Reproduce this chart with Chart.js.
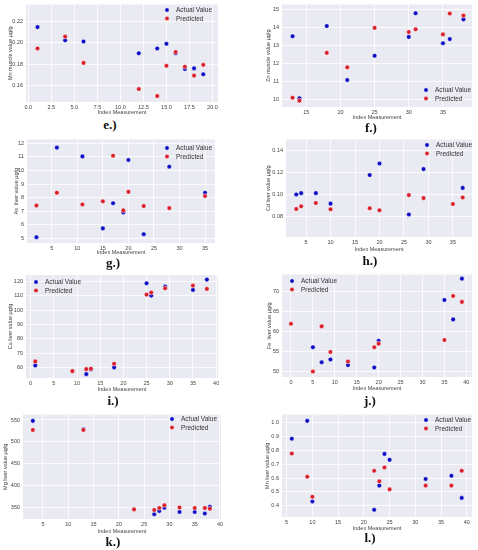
<!DOCTYPE html>
<html lang="en">
<head>
  <meta charset="UTF-8">
  <title>Actual vs Predicted</title>
  <script src="https://cdn.jsdelivr.net/npm/chart.js"></script>
  <style>
    body { margin: 0; background: #fff; }
    #wrap { position: relative; width: 478px; height: 550px; }
    canvas { position: absolute; }
    .cap { position: absolute; font: bold 13px "Liberation Serif", serif; color: #111; transform: translate(-50%, -50%); white-space: nowrap; }
  </style>
</head>
<body>
  <div id="wrap"></div>

  <script>
    // e.) Mn muscle
    const eIndex = [1, 4, 6, 12, 14, 15, 16, 17, 18, 19];
    const eActual = [0.2145, 0.2023, 0.2011, 0.1902, 0.1947, 0.1990, 0.1902, 0.1756, 0.1762, 0.1707];
    const ePredicted = [0.1947, 0.2057, 0.1813, 0.1570, 0.1506, 0.1786, 0.1914, 0.1777, 0.1695, 0.1795];
    const eXTicks = [0, 2.5, 5, 7.5, 10, 12.5, 15, 17.5, 20];
    const eYTicks = [0.16, 0.18, 0.20, 0.22];

    // f.) Zn muscle
    const fIndex = [13, 14, 18, 21, 25, 30, 31, 35, 36, 38];
    const fActual = [13.52, 10.09, 14.08, 11.10, 12.44, 13.48, 14.79, 13.13, 13.36, 14.45];
    const fPredicted = [10.12, 9.96, 12.60, 11.80, 13.98, 13.75, 13.90, 13.62, 14.77, 14.66];
    const fXTicks = [15, 20, 25, 30, 35];
    const fYTicks = [10, 11, 12, 13, 14, 15];

    // g.) As liver
    const gIndex = [2, 6, 11, 15, 17, 19, 20, 23, 28, 35];
    const gActual = [5.07, 11.69, 11.04, 5.72, 7.58, 6.89, 10.78, 5.29, 10.28, 8.35];
    const gPredicted = [7.41, 8.35, 7.49, 7.72, 11.09, 7.05, 8.42, 7.37, 7.22, 8.11];
    const gXTicks = [5, 10, 15, 20, 25, 30, 35];
    const gYTicks = [5, 6, 7, 8, 9, 10, 11, 12];

    // h.) Cd liver
    const hIndex = [3, 4, 7, 10, 18, 20, 26, 29, 35, 37];
    const hActual = [0.0999, 0.1011, 0.1011, 0.0916, 0.1174, 0.1278, 0.0818, 0.1228, null, 0.1058];
    const hPredicted = [0.0868, 0.0892, 0.0922, 0.0865, 0.0874, 0.0856, 0.0993, 0.0966, 0.0913, 0.0972];
    const hXTicks = [5, 10, 15, 20, 25, 30, 35];
    const hYTicks = [0.08, 0.10, 0.12, 0.14];

    // i.) Ca liver
    const iIndex = [1, 9, 12, 13, 18, 25, 26, 29, 35, 38];
    const iActual = [61.4, null, 55.3, 58.6, 60.0, 118.8, 110.2, 116.5, 114.2, 121.4];
    const iPredicted = [64.2, 57.4, 58.8, 59.1, 62.6, 110.9, 112.3, 115.3, 117.2, 114.9];
    const iXTicks = [0, 5, 10, 15, 20, 25, 30, 35, 40];
    const iYTicks = [60, 70, 80, 90, 100, 110, 120];

    // j.) Fe liver
    const jIndex = [0, 5, 7, 9, 13, 19, 20, 35, 37, 39];
    const jActual = [null, 56.0, 52.2, 52.9, 51.5, 50.9, 57.6, 67.9, 63.0, 73.25];
    const jPredicted = [61.9, 49.9, 61.25, 54.8, 52.4, 56.0, 56.9, 57.8, 68.9, 67.4];
    const jXTicks = [0, 5, 10, 15, 20, 25, 30, 35, 40];
    const jYTicks = [50, 55, 60, 65, 70];

    // k.) Mg liver
    const kIndex = [3, 13, 23, 27, 28, 29, 32, 35, 37, 38];
    const kActual = [548, 528.8, null, 335.3, 342.7, 350.0, 340.5, 340.5, 336.8, 352.2];
    const kPredicted = [527.3, 527.3, 346.3, 344.9, 349.3, 355.8, 350.7, 349.3, 349.3, 347.8];
    const kXTicks = [5, 10, 15, 20, 25, 30, 35, 40];
    const kYTicks = [350, 400, 450, 500, 550];

    // l.) Mn liver
    const lIndex = [6, 9, 10, 22, 23, 24, 25, 32, 37, 39];
    const lActual = [0.885, 1.014, 0.431, 0.371, 0.546, 0.775, 0.732, 0.594, 0.617, 0.457];
    const lPredicted = [0.778, 0.610, 0.465, 0.653, 0.577, 0.677, 0.519, 0.546, 0.546, 0.653];
    const lXTicks = [5, 10, 15, 20, 25, 30, 35, 40];
    const lYTicks = [0.4, 0.5, 0.6, 0.7, 0.8, 0.9, 1.0];

    const seriesNames = ['Actual Value', 'Predicted'];
    const BLUE = '#0a0ac4';
    const RED = '#d91e2c';
    const INK = '#444';

    // panel geometry: page offset, plot rect inside the canvas, axis ranges
    const panels = [
      { cap: 'e.)', left: 0, top: 0, plot: [26, 3, 218, 102], xOff: 10, yTitleX: 10,
        xr: [-0.25, 20.6], yr: [0.145, 0.2355], xt: eXTicks, yt: eYTicks, xd: 1, yd: 2,
        idx: eIndex, act: eActual, pred: ePredicted, ylab: 'Mn muscle value µg/g',
        leg: [167, 10], capAt: [110, 125] },
      { cap: 'f.)', left: 239, top: 0, plot: [43, 0, 233, 107], xOff: 10, yTitleX: 29,
        xr: [11.45, 39.25], yr: [9.61, 15.27], xt: fXTicks, yt: fYTicks, xd: 0, yd: 0,
        idx: fIndex, act: fActual, pred: fPredicted, ylab: 'Zn muscle value µg/g',
        leg: [187, 90], capAt: [371, 128] },
      { cap: 'g.)', left: 0, top: 135, plot: [27, 2, 215, 108], xOff: 9, yTitleX: 16,
        xr: [0.15, 36.95], yr: [4.64, 12.29], xt: gXTicks, yt: gYTicks, xd: 0, yd: 0,
        idx: gIndex, act: gActual, pred: gPredicted, ylab: 'As  liver value µg/g',
        leg: [167, 13], capAt: [113, 263] },
      { cap: 'h.)', left: 239, top: 135, plot: [47, 3, 233, 102], xOff: 12, yTitleX: 29,
        xr: [0.9, 38.9], yr: [0.0615, 0.1495], xt: hXTicks, yt: hYTicks, xd: 0, yd: 2,
        idx: hIndex, act: hActual, pred: hPredicted, ylab: 'Cd liver value µg/g',
        leg: [188, 10], capAt: [370, 261] },
      { cap: 'i.)', left: 0, top: 270, plot: [26, 5, 218, 108], xOff: 11, yTitleX: 10,
        xr: [-1.0, 40.4], yr: [52.6, 124.6], xt: iXTicks, yt: iYTicks, xd: 0, yd: 0,
        idx: iIndex, act: iActual, pred: iPredicted, ylab: 'Ca liver value µg/g',
        leg: [36, 12], capAt: [113, 401] },
      { cap: 'j.)', left: 239, top: 270, plot: [43, 3, 233, 107], xOff: 11, yTitleX: 30,
        xr: [-2.05, 41.3], yr: [48.5, 74.3], xt: jXTicks, yt: jYTicks, xd: 0, yd: 0,
        idx: jIndex, act: jActual, pred: jPredicted, ylab: 'Fe  liver value µg/g',
        leg: [53, 11], capAt: [370, 401] },
      { cap: 'k.)', left: 0, top: 410, plot: [23, 1, 221, 109], xOff: 12, yTitleX: 5,
        xr: [1.05, 40.2], yr: [324.4, 562.5], xt: kXTicks, yt: kYTicks, xd: 0, yd: 0,
        idx: kIndex, act: kActual, pred: kPredicted, ylab: 'Mg liver value µg/g',
        leg: [172, 9], capAt: [113, 542] },
      { cap: 'l.)', left: 239, top: 410, plot: [43, 3, 233, 107], xOff: 11, yTitleX: 28,
        xr: [4.1, 41.0], yr: [0.319, 1.06], xt: lXTicks, yt: lYTicks, xd: 0, yd: 1,
        idx: lIndex, act: lActual, pred: lPredicted, ylab: 'Mn liver value µg/g',
        leg: [187, 10], capAt: [370, 538] }
    ];

    const plotBg = {
      id: 'plotBg',
      beforeDraw(chart) {
        const { ctx, chartArea: a } = chart;
        ctx.save();
        ctx.fillStyle = '#eaeaf2';
        ctx.fillRect(a.left, a.top, a.width, a.height);
        ctx.restore();
      }
    };

    // seaborn-style legend drawn inside the axes
    const innerLegend = {
      id: 'innerLegend',
      afterDraw(chart, args, opts) {
        const ctx = chart.ctx;
        ctx.save();
        ctx.font = '6.5px "Liberation Sans", Arial, sans-serif';
        ctx.textBaseline = 'middle';
        ctx.textAlign = 'left';
        chart.data.datasets.forEach((ds, k) => {
          const y = opts.y + k * 8.5;
          ctx.beginPath();
          ctx.arc(opts.x, y, 2.2, 0, Math.PI * 2);
          ctx.fillStyle = ds.backgroundColor;
          ctx.fill();
          ctx.lineWidth = 0.5;
          ctx.strokeStyle = '#fff';
          ctx.stroke();
          ctx.fillStyle = '#333';
          ctx.fillText(ds.label, opts.x + 9, y + 0.5);
        });
        ctx.restore();
      }
    };

    const wrap = document.getElementById('wrap');
    const tickFont = { family: '"Liberation Sans", Arial, sans-serif', size: 5.5 };

    panels.forEach(p => {
      const [pl, pt, pr, pb] = p.plot;
      const W = 239;
      const H = Math.round(pb + p.xOff + 4.5);

      const canvas = document.createElement('canvas');
      canvas.width = W;
      canvas.height = H;
      canvas.style.left = p.left + 'px';
      canvas.style.top = p.top + 'px';
      wrap.appendChild(canvas);

      const cap = document.createElement('div');
      cap.className = 'cap';
      cap.textContent = p.cap;
      cap.style.left = p.capAt[0] + 'px';
      cap.style.top = p.capAt[1] + 'px';
      wrap.appendChild(cap);

      const toPoints = vals => p.idx.map((x, k) => ({ x, y: vals[k] })).filter(d => d.y !== null);

      new Chart(canvas.getContext('2d'), {
        type: 'scatter',
        data: {
          datasets: [
            { label: seriesNames[0], data: toPoints(p.act), backgroundColor: BLUE, borderColor: '#fff',
              borderWidth: 0.5, pointRadius: 2.3, order: 1 },
            { label: seriesNames[1], data: toPoints(p.pred), backgroundColor: RED, borderColor: '#fff',
              borderWidth: 0.5, pointRadius: 2.3, order: 0 }
          ]
        },
        options: {
          responsive: false,
          animation: false,
          layout: { padding: { left: 0, top: pt, right: W - pr, bottom: 0 } },
          plugins: {
            legend: { display: false },
            tooltip: { enabled: false },
            innerLegend: { x: p.leg[0], y: p.leg[1] }
          },
          scales: {
            x: {
              type: 'linear', position: 'bottom', bounds: 'data',
              min: p.xr[0], max: p.xr[1],
              afterBuildTicks: ax => { ax.ticks = p.xt.map(v => ({ value: v })); },
              afterFit: ax => { ax.height = H - pb; ax.paddingLeft = 0; ax.paddingRight = 0; },
              grid: { color: '#ffffff', lineWidth: 0.8, drawTicks: false },
              border: { display: false },
              ticks: { font: tickFont, color: INK, padding: 2, maxRotation: 0, autoSkip: false,
                callback: v => Number(v).toFixed(p.xd) },
              title: { display: true, text: 'Index Measurement', font: tickFont, color: INK,
                padding: { top: 0, bottom: 1 } }
            },
            y: {
              type: 'linear', position: 'left', bounds: 'data',
              min: p.yr[0], max: p.yr[1],
              afterBuildTicks: ax => { ax.ticks = p.yt.map(v => ({ value: v })); },
              afterFit: ax => { ax.width = pl; ax.paddingTop = 0; ax.paddingBottom = 0; },
              grid: { color: '#ffffff', lineWidth: 0.8, drawTicks: false },
              border: { display: false },
              ticks: { font: tickFont, color: INK, padding: 3, autoSkip: false,
                callback: v => Number(v).toFixed(p.yd) },
              title: { display: true, text: p.ylab, font: tickFont, color: INK,
                padding: { top: p.yTitleX - 3.3, bottom: 0 } }
            }
          }
        },
        plugins: [plotBg, innerLegend]
      });
    });
  </script>
</body>
</html>
